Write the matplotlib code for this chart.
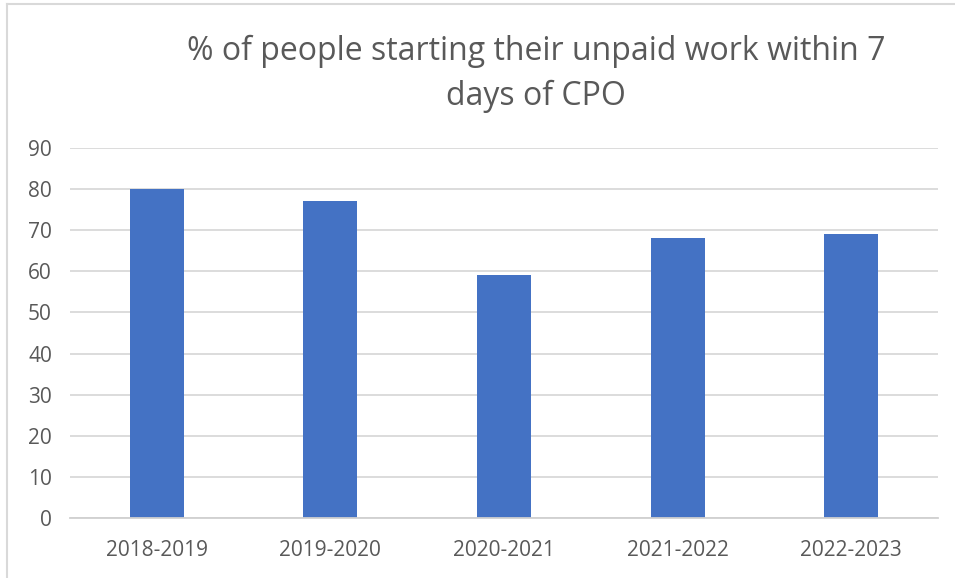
import matplotlib
matplotlib.use("Agg")
import matplotlib.pyplot as plt
from matplotlib.lines import Line2D

categories = ["2018-2019", "2019-2020", "2020-2021", "2021-2022", "2022-2023"]
values = [80, 77, 59, 68, 69]
yticks = [0, 10, 20, 30, 40, 50, 60, 70, 80, 90]
title = "% of people starting their unpaid work within 7\ndays of CPO"

W, H = 955, 578
fig = plt.figure(figsize=(W / 100, H / 100), dpi=100)
fig.patch.set_facecolor("white")
font = ["Open Sans", "DejaVu Sans"]
plt.rcParams["font.family"] = font

ax = fig.add_axes([70 / W, 1 - 518 / H, (938 - 70) / W, (518 - 148) / H])
x = list(range(len(categories)))
ax.bar(x, values, width=0.31, color="#4472C4", zorder=3)
ax.set_xlim(-0.5, len(categories) - 0.5)
ax.set_ylim(0, 90)
ax.set_yticks(yticks)
ax.set_xticks(x)
ax.set_xticklabels(categories)
ax.grid(axis="y", color="#d9d9d9", linewidth=1.3, zorder=0)
for s in ["top", "right", "left"]:
    ax.spines[s].set_visible(False)
ax.spines["bottom"].set_color("#d0d0d0")
ax.spines["bottom"].set_linewidth(1.3)
ax.spines["bottom"].set_zorder(4)
ax.tick_params(axis="both", length=0, labelsize=15, colors="#595959")
ax.tick_params(axis="x", pad=16)
ax.tick_params(axis="y", pad=13)

fig.text(536 / W, 1 - 74 / H, title, ha="center", va="center", fontsize=23,
         color="#595959", linespacing=1.45)

# chart frame border
fig.add_artist(Line2D([7 / W, 7 / W], [0, 1 - 4 / H], transform=fig.transFigure,
                      color="#d9d9d9", linewidth=1.5))
fig.add_artist(Line2D([7 / W, 1], [1 - 4 / H, 1 - 4 / H], transform=fig.transFigure,
                      color="#d9d9d9", linewidth=1.5))

fig.savefig("out.png", dpi=100, facecolor="white")
